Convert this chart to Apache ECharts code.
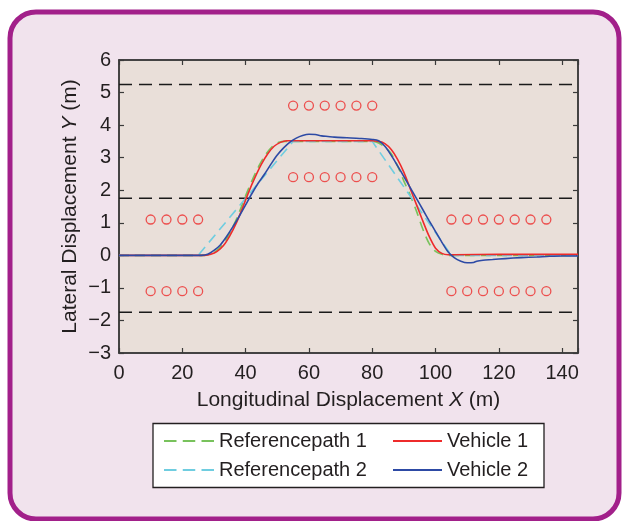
<!DOCTYPE html>
<html>
<head>
<meta charset="utf-8">
<script src="https://cdn.jsdelivr.net/npm/echarts@6/dist/echarts.min.js"></script>
<style>
html,body{margin:0;padding:0;background:#ffffff;}
#chart{width:623px;height:521px;}
</style>
</head>
<body>
<div id="chart"></div>
<script>
// ---- data ----
const xTicks = [0, 20, 40, 60, 80, 100, 120, 140];
const yTicks = [-3, -2, -1, 0, 1, 2, 3, 4, 5, 6];

const refPath1X = [0, 26.5, 28.5, 30.5, 32.5, 34.5, 36.5, 38.5, 40.5, 42.5, 44.5, 46.5, 48.5, 50.5, 52.5, 80, 82, 84, 86, 88, 90, 92, 94, 96, 98, 100, 102, 104, 145];
const refPath1Y = [0, 0, 0.03, 0.12, 0.3, 0.6, 0.98, 1.45, 1.95, 2.4, 2.8, 3.12, 3.35, 3.47, 3.5, 3.5, 3.45, 3.32, 3.12, 2.75, 2.28, 1.85, 1.35, 0.8, 0.36, 0.12, 0.03, 0, 0];

const refPath2X = [0, 25, 55, 80, 105, 145];
const refPath2Y = [0, 0, 3.5, 3.5, 0, 0];

const vehicle1X = [0, 27, 29, 31, 33, 35, 37, 39, 41, 43, 45, 47, 49, 51, 53, 60, 70, 80, 82, 84, 86, 88, 90, 92, 94, 96, 98, 100, 102, 104, 106, 120, 145];
const vehicle1Y = [0, 0, 0.03, 0.12, 0.3, 0.6, 0.98, 1.45, 1.95, 2.4, 2.8, 3.12, 3.35, 3.47, 3.52, 3.52, 3.52, 3.52, 3.5, 3.43, 3.25, 2.95, 2.55, 2.05, 1.55, 1.05, 0.58, 0.22, 0.06, 0.02, 0.02, 0.03, 0.03];

const vehicle2X = [0, 26, 28, 30, 32, 34, 36, 38, 40, 42, 44, 46, 48, 50, 52, 54, 56, 58, 60, 62, 64, 66, 68, 72, 76, 80, 82, 84, 86, 88, 90, 92, 94, 96, 98, 100, 102, 104, 106, 108, 110, 112, 113, 115, 118, 122, 127, 132, 136, 140, 145];
const vehicle2Y = [0, 0, 0.03, 0.15, 0.32, 0.58, 0.88, 1.2, 1.55, 1.9, 2.22, 2.5, 2.8, 3.08, 3.3, 3.48, 3.6, 3.68, 3.72, 3.71, 3.67, 3.65, 3.63, 3.61, 3.59, 3.56, 3.52, 3.35, 3.07, 2.75, 2.42, 2.08, 1.74, 1.4, 1.06, 0.73, 0.4, 0.1, -0.08, -0.18, -0.23, -0.22, -0.18, -0.15, -0.13, -0.1, -0.07, -0.05, -0.03, -0.02, -0.02];

const laneLinesY = [5.25, 1.75, -1.75];
const laneX = [0, 145];

const obstacleTopX = [55, 60, 65, 70, 75, 80];
const obstacleTopY = [4.6, 2.4];
const obstacleLeftX = [10, 15, 20, 25];
const obstacleRightX = [105, 110, 115, 120, 125, 130, 135];
const obstacleSideY = [1.1, -1.1];

const seriesNames = ['Referencepath 1', 'Referencepath 2', 'Vehicle 1', 'Vehicle 2'];
const seriesColors = ['#78c25c', '#6fcde0', '#ee2b2b', '#2d4aa5'];

// ---- build ----
function zip(xs, ys) { return xs.map((x, i) => [x, ys[i]]); }
const circles = [];
obstacleTopY.forEach(y => obstacleTopX.forEach(x => circles.push([x, y])));
obstacleSideY.forEach(y => obstacleLeftX.forEach(x => circles.push([x, y])));
obstacleSideY.forEach(y => obstacleRightX.forEach(x => circles.push([x, y])));

const FONT = 'Liberation Sans';
const TXT = '#231f20';
const AX = '#3a3a3a';

const chart = echarts.init(document.getElementById('chart'), null, {renderer: 'canvas'});

const laneSeries = laneLinesY.map(y => ({
  type: 'line', data: zip(laneX, [y, y]), symbol: 'none', silent: true,
  lineStyle: {color: '#1a1a1a', width: 1.5, type: [13, 7]}, z: 2
}));

const fmtMinus = v => String(v).replace('-', '\u2212');

function axisCommon() {
  return {
    axisLine: {show: true, onZero: false, lineStyle: {color: AX, width: 1.5}},
    axisTick: {show: true, inside: true, length: 5, lineStyle: {color: AX, width: 1.2}},
    splitLine: {show: false}
  };
}

const legendCommon = {
  orient: 'vertical', top: 429, itemWidth: 50, itemHeight: 14, itemGap: 5, padding: 0,
  itemStyle: {opacity: 0, borderWidth: 0},
  textStyle: {fontFamily: FONT, fontSize: 20, color: TXT, lineHeight: 24}
};

chart.setOption({
  animation: false,
  backgroundColor: '#ffffff',
  graphic: [
    {type: 'rect', shape: {x: 10, y: 12, width: 609, height: 507, r: 26},
     style: {fill: '#f1e3ed', stroke: '#a2208a', lineWidth: 5}, z: -10},
    {type: 'rect', shape: {x: 153, y: 423.5, width: 391, height: 64},
     style: {fill: '#ffffff', stroke: '#231f20', lineWidth: 1.3}, z: 1}
  ],
  grid: {left: 119, right: 45, top: 60, bottom: 168, show: true,
         backgroundColor: '#e9dfd9', borderColor: AX, borderWidth: 1.5},
  xAxis: [Object.assign(axisCommon(), {
    type: 'value', min: 0, max: 145, interval: 20, position: 'bottom',
    name: 'Longitudinal Displacement {i|X} (m)', nameLocation: 'middle', nameGap: 37,
    nameMoveOverlap: false,
    nameTextStyle: {fontFamily: FONT, fontSize: 21, color: TXT,
      rich: {i: {fontStyle: 'italic', fontFamily: FONT, fontSize: 21, color: TXT}}},
    axisLabel: {fontFamily: FONT, fontSize: 20, color: TXT, margin: 10,
      formatter: v => (xTicks.indexOf(v) >= 0 ? fmtMinus(v) : '')}
  }), Object.assign(axisCommon(), {
    type: 'value', min: 0, max: 145, interval: 20, position: 'top',
    axisLabel: {show: false}
  })],
  yAxis: [Object.assign(axisCommon(), {
    type: 'value', min: -3, max: 6, interval: 1, position: 'left',
    name: 'Lateral Displacement {i|Y} (m)', nameLocation: 'middle', nameGap: 38, nameRotate: 90,
    nameMoveOverlap: false,
    nameTextStyle: {fontFamily: FONT, fontSize: 21, color: TXT,
      rich: {i: {fontStyle: 'italic', fontFamily: FONT, fontSize: 21, color: TXT}}},
    axisLabel: {fontFamily: FONT, fontSize: 20, color: TXT, margin: 8,
      formatter: v => (yTicks.indexOf(v) >= 0 ? fmtMinus(v) : '')}
  }), Object.assign(axisCommon(), {
    type: 'value', min: -3, max: 6, interval: 1, position: 'right',
    axisLabel: {show: false}
  })],
  legend: [
    Object.assign({}, legendCommon, {data: [seriesNames[0], seriesNames[1]], left: 163,
      lineStyle: {type: [12.5, 6.25]}}),
    Object.assign({}, legendCommon, {data: [seriesNames[2], seriesNames[3]], left: 392, itemWidth: 49})
  ],
  series: laneSeries.concat([
    {type: 'scatter', data: circles, symbol: 'circle', symbolSize: 9, silent: true,
     itemStyle: {color: 'rgba(0,0,0,0)', borderColor: '#ee2b2b', borderWidth: 1.3}, z: 3},
    {name: seriesNames[0], type: 'line', data: zip(refPath1X, refPath1Y), symbol: 'none', smooth: 0.3,
     itemStyle: {color: seriesColors[0]},
     lineStyle: {color: seriesColors[0], width: 1.6, type: [10, 6]}, z: 4},
    {name: seriesNames[1], type: 'line', data: zip(refPath2X, refPath2Y), symbol: 'none',
     itemStyle: {color: seriesColors[1]},
     lineStyle: {color: seriesColors[1], width: 1.6, type: [10, 6]}, z: 4},
    {name: seriesNames[2], type: 'line', data: zip(vehicle1X, vehicle1Y), symbol: 'none', smooth: 0.3,
     itemStyle: {color: seriesColors[2]},
     lineStyle: {color: seriesColors[2], width: 1.6}, z: 5},
    {name: seriesNames[3], type: 'line', data: zip(vehicle2X, vehicle2Y), symbol: 'none', smooth: 0.3,
     itemStyle: {color: seriesColors[3]},
     lineStyle: {color: seriesColors[3], width: 1.6}, z: 6}
  ])
});
</script>
</body>
</html>
